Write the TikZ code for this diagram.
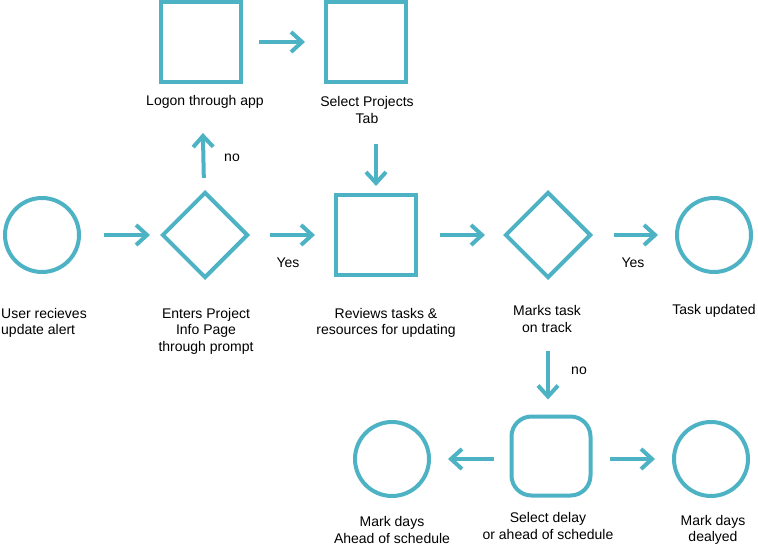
\documentclass[tikz,border=0pt]{standalone}
\usepackage{fontspec}
\setmainfont{Liberation Sans}
\usetikzlibrary{arrows.meta,shapes.geometric}
\definecolor{flowteal}{RGB}{77,178,196}
\tikzset{%
  cnode/.style={draw=flowteal,line width=4pt,shape=circle,minimum size=74pt,inner sep=0},
  snode/.style={draw=flowteal,line width=4pt,shape=rectangle,minimum size=80pt,inner sep=0},
  dnode/.style={draw=flowteal,line width=4pt,shape=diamond,minimum width=86pt,minimum height=86pt,inner sep=0},
  rnode/.style={draw=flowteal,line width=4pt,shape=rectangle,rounded corners=20pt,minimum size=79pt,inner sep=0},
  txt/.style={align=center,inner sep=0,font=\fontsize{14}{16.5}\selectfont},
  flow/.style={draw=flowteal,line width=4pt,-{Straight Barb[length=11pt,width=20pt]}}
}
\begin{document}
\begin{tikzpicture}[x=1pt,y=-1pt]
    \useasboundingbox (0,0) rectangle (758,545);
    \path
      (42,235) node (user)[cnode]{}
      (205,235) node (enter)[dnode]{}
      (201,42) node (logon)[snode]{}
      (366,42) node (tab)[snode]{}
      (376,235) node (review)[snode]{}
      (548,235) node (mark)[dnode]{}
      (714,235) node (done)[cnode]{}
      (551,456) node (delay)[rnode]{}
      (392,459) node (ahead)[cnode]{}
      (711,459) node (late)[cnode]{};
    % labels under the shapes
    \path
      (1,323) node (userlbl)[txt,anchor=west,align=left]{User recieves\\update alert}
      (206,331) node (enterlbl)[txt]{Enters Project\\Info Page\\through prompt}
      (205,102) node (logonlbl)[txt]{Logon through app}
      (367,110) node (tablbl)[txt]{Select Projects\\Tab}
      (386,323) node (reviewlbl)[txt]{Reviews tasks \&\\resources for updating}
      (547,319) node (marklbl)[txt]{Marks task\\on track}
      (714,311) node (donelbl)[txt]{Task updated}
      (548,526) node (delaylbl)[txt]{Select delay\\or ahead of schedule}
      (392,530) node (aheadlbl)[txt]{Mark days\\Ahead of schedule}
      (713,530) node (latelbl)[txt]{Mark days\\dealyed};
    % answers
    \path
      (288,263) node (yes1)[txt]{Yes}
      (633,263) node (yes2)[txt]{Yes}
      (232,158) node (no1)[txt]{no}
      (579,371) node (no2)[txt]{no};
    \draw[flow,shorten <=23pt,shorten >=10pt] (user) -- (enter);
    \draw[flow,shorten <=20pt,shorten >=19pt] (enter) -- (review);
    \draw[flow,shorten <=13pt,shorten >=49pt] (enter) -- (logon);
    \draw[flow,shorten <=16pt,shorten >=19pt] (logon) -- (tab);
    \draw[flow,shorten <=60pt,shorten >=7pt] (tab.south -| review) -- (review);
    \draw[flow,shorten <=22pt,shorten >=18pt] (review) -- (mark);
    \draw[flow,shorten <=21pt,shorten >=17pt] (mark) -- (done);
    \draw[flow,shorten <=71pt,shorten >=15pt] (mark) -- (mark |- delay.north);
    \draw[flow,shorten <=16pt,shorten >=17pt] (delay.west |- ahead) -- (ahead);
    \draw[flow,shorten <=17pt,shorten >=17pt] (delay.east |- late) -- (late);
  \end{tikzpicture}
\end{document}
